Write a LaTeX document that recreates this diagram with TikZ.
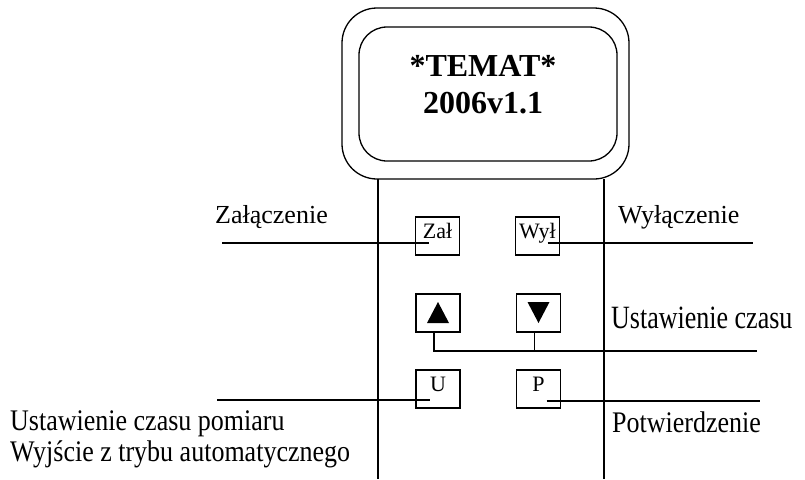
\documentclass[tikz,border=0pt]{standalone}
\usepackage{fontspec}
\setmainfont{Liberation Serif}
\begin{document}
\begin{tikzpicture}[x=1pt,y=-1pt,
  key/.style={draw, line width=1.2pt, minimum width=44pt, minimum height=38pt, inner sep=0pt,
    font=\fontsize{22}{24}\selectfont, text height=15pt, text depth=11pt},
  lbl/.style={anchor=base west, inner sep=0pt, font=\fontsize{26}{27}\selectfont},
  heavy/.style={line width=2.2pt},
  mid/.style={line width=1.5pt},
  light/.style={line width=1pt}]
\useasboundingbox (0,0) rectangle (805,479);

\draw[line width=1.3pt, rounded corners=35pt] (342,8) rectangle (629,179);
\draw[line width=1.3pt, rounded corners=28pt] (359,27) rectangle (617,161);
\node[align=center, inner sep=0pt, font=\fontsize{32}{37}\selectfont\bfseries] (title) at (483,84.5) {*TEMAT*\\2006v1.1};
\draw[line width=1.3pt] (378,179) -- (378,479);
\draw[line width=1.3pt] (604,179) -- (604,479);

\node[key] (zal) at (437.5,236) {Zał};
\node[key] (wyl) at (537.5,236) {Wył};
\node[key] (up) at (438,313) {};
\node[key] (down) at (538.5,313) {};
\node[key] (u) at (438,389) {U};
\node[key] (p) at (538.5,389) {P};
\fill[shift={(up.center)}] (0,-11) -- (11,10) -- (-11,10) -- cycle;
\fill[shift={(down.center)}] (0,10) -- (11,-11) -- (-11,-11) -- cycle;

\node[lbl] (zalText) at (215,223) {Załączenie};
\node[lbl] (wylText) at (618,223) {Wyłączenie};
\node[lbl, yscale=1.25] (czasText) at (611,328) {Ustawienie czasu};
\node[lbl, yscale=1.15] (potwText) at (612,432) {Potwierdzenie};
\node[lbl, anchor=north west, align=left, yscale=1.15] (uText) at (10,410.5) {Ustawienie czasu pomiaru\\Wyjście z trybu automatycznego};

\coordinate (zalL) at (222,243);
\coordinate (wylR) at (753,243);
\coordinate (czasR) at (757,351);
\coordinate (uL) at (217,400);
\coordinate (pR) at (760,401);

\draw[heavy] (zalL) -- ([shift={(-9,7)}]zal.center);
\draw[mid] ([shift={(10,7)}]wyl.center) -- (wylR);
\draw[heavy] ([xshift=-4pt]up.south) |- (czasR);
\draw[light] ([xshift=-4pt]down.south) -- ([xshift=-4pt]down.south |- czasR);
\draw[mid] (uL) -- ([shift={(-8,11)}]u.center);
\draw[mid] ([shift={(8,12)}]p.center) -- (pR);
\end{tikzpicture}
\end{document}
